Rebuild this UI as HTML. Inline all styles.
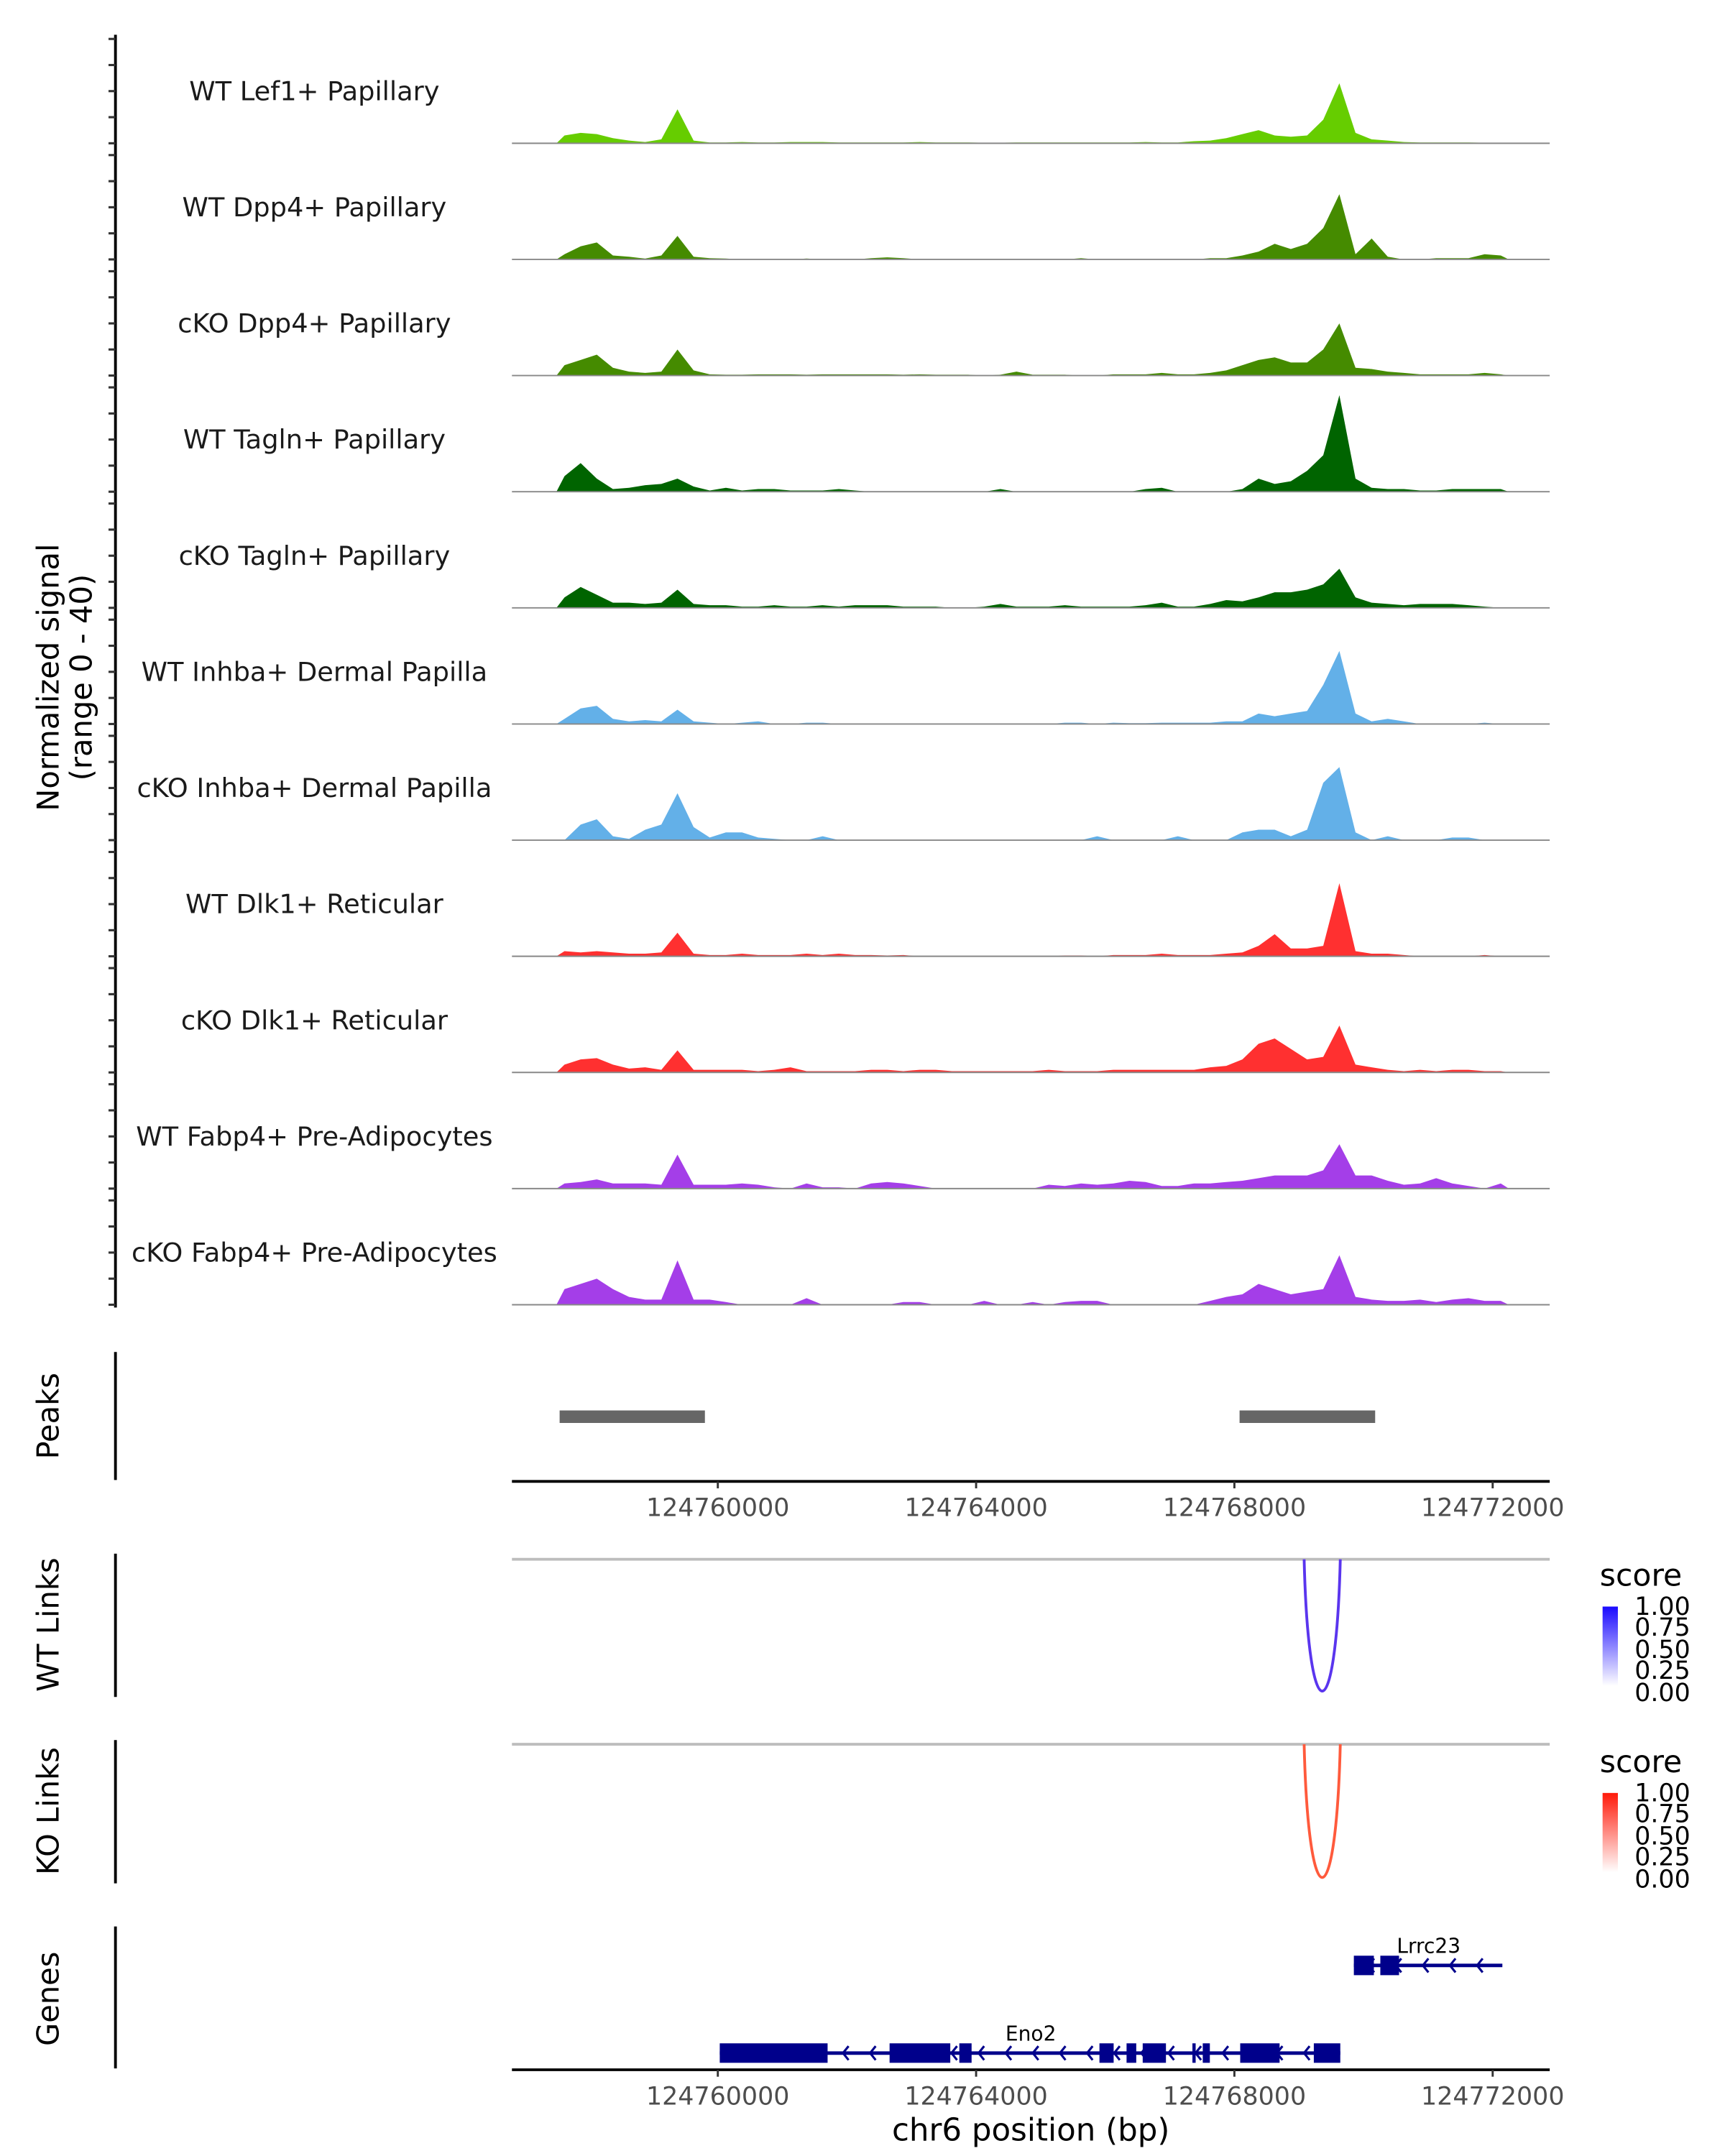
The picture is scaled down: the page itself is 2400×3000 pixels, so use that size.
<!DOCTYPE html>
<html><head><meta charset="utf-8"><style>html,body{margin:0;padding:0;background:#fff}svg{display:block}text{font-family:"DejaVu Sans","Liberation Sans",sans-serif}</style></head>
<body>
<svg id="chart" xmlns="http://www.w3.org/2000/svg" width="2400" height="3000" viewBox="0 0 1240 1550">
<rect width="1240" height="1550" fill="#fff"/>
<g id="tracks"></g>
<g id="yaxis"></g>
<text transform="translate(42,487) rotate(-90)" text-anchor="middle" font-size="21.5" fill="#000">Normalized signal</text>
<text transform="translate(66,487) rotate(-90)" text-anchor="middle" font-size="21.5" fill="#000">(range 0 - 40)</text>

<line x1="83" y1="972" x2="83" y2="1064" stroke="#000" stroke-width="2"/>
<text transform="translate(42,1018) rotate(-90)" text-anchor="middle" font-size="21.5">Peaks</text>
<g id="peaks"></g>
<g id="xaxis1"></g>

<line x1="83" y1="1117" x2="83" y2="1220" stroke="#000" stroke-width="2"/>
<text transform="translate(42,1168) rotate(-90)" text-anchor="middle" font-size="21.5">WT Links</text>
<line x1="368" y1="1121" x2="1114" y2="1121" stroke="#bdbdbd" stroke-width="2"/>
<g id="wtlinks"></g>

<line x1="83" y1="1251" x2="83" y2="1354" stroke="#000" stroke-width="2"/>
<text transform="translate(42,1302) rotate(-90)" text-anchor="middle" font-size="21.5">KO Links</text>
<line x1="368" y1="1254" x2="1114" y2="1254" stroke="#bdbdbd" stroke-width="2"/>
<g id="kolinks"></g>

<defs>
<linearGradient id="gb" x1="0" y1="1" x2="0" y2="0"><stop offset="0" stop-color="#fff"/><stop offset="1" stop-color="#1a0aff"/></linearGradient>
<linearGradient id="gr" x1="0" y1="1" x2="0" y2="0"><stop offset="0" stop-color="#fff"/><stop offset="1" stop-color="#ff1a0a"/></linearGradient>
</defs>
<g>
<text x="1150" y="1140" font-size="22">score</text>
<rect x="1152" y="1155" width="11" height="57" fill="url(#gb)"/>
<g font-size="18"><text x="1175" y="1161">1.00</text><text x="1175" y="1176">0.75</text><text x="1175" y="1192">0.50</text><text x="1175" y="1207">0.25</text><text x="1175" y="1223">0.00</text></g>
</g>
<g>
<text x="1150" y="1274" font-size="22">score</text>
<rect x="1152" y="1289" width="11" height="57" fill="url(#gr)"/>
<g font-size="18"><text x="1175" y="1295">1.00</text><text x="1175" y="1310">0.75</text><text x="1175" y="1326">0.50</text><text x="1175" y="1341">0.25</text><text x="1175" y="1357">0.00</text></g>
</g>

<line x1="83" y1="1385" x2="83" y2="1487" stroke="#000" stroke-width="2"/>
<text transform="translate(42,1437) rotate(-90)" text-anchor="middle" font-size="21.5">Genes</text>
<g id="genes"></g>
<g id="xaxis2"></g>
<text x="741" y="1539" text-anchor="middle" font-size="22.5">chr6 position (bp)</text>
</svg>
<script>
const NS="http://www.w3.org/2000/svg";
const trackNames=["WT Lef1+ Papillary","WT Dpp4+ Papillary","cKO Dpp4+ Papillary","WT Tagln+ Papillary","cKO Tagln+ Papillary","WT Inhba+ Dermal Papilla","cKO Inhba+ Dermal Papilla","WT Dlk1+ Reticular","cKO Dlk1+ Reticular","WT Fabp4+ Pre-Adipocytes","cKO Fabp4+ Pre-Adipocytes"];
const trackColors=["#66cd00","#458b00","#458b00","#006400","#006400","#63b0e8","#63b0e8","#ff3030","#ff3030","#a43ee8","#a43ee8"];
const binStart=124757500;
const binSize=250;
const sLef1=[3,4,3.5,2,1,0.5,1.5,13,1,0.3, 0.3,0.5,0.3,0.3,0.5,0.5,0.5,0.3,0.3,0.3, 0.3,0.3,0.5,0.3,0.3,0.3,0.2,0.2,0.3,0.3, 0.3,0.3,0.3,0.3,0.3,0.3,0.5,0.3,0.3,0.8, 1,2,3.5,5,3,2.5,3,9,23,4, 1.5,1,0.5,0.3,0.3,0.3,0.3,0.2,0];
const sDpp4WT=[2,5,6.5,1.5,1,0.3,1.5,9,1,0.5, 0.3,0,0,0,0,0.3,0,0,0,0.5, 0.8,0.5,0,0,0,0,0,0,0,0, 0,0,0.5,0,0,0,0,0,0,0, 0.5,0.5,1.5,3,6,4,6,12,25,2, 8,1,0,0,0.5,0.5,0.5,2,1.5];
const sDpp4KO=[4,6,8,3,1.5,1,1.5,10,2,0.5, 0.3,0.3,0.5,0.5,0.5,0.3,0.5,0.5,0.5,0.5, 0.5,0.3,0.5,0.3,0.3,0.3,0,0.3,1.5,0.3, 0.3,0.3,0,0,0.5,0.5,0.5,1,0.5,0.5, 1,2,4,6,7,5,5,10,20,3, 2.5,1.5,1,0.5,0.5,0.5,0.5,1,0.5];
const sTaglnWT=[6,11,5,1,1.5,2.5,3,5,2,0.5, 1.5,0.5,1,1,0.5,0.5,0.5,1,0.5,0, 0,0,0,0,0,0,0,1,0,0, 0,0,0,0,0,0,1,1.5,0,0, 0,0,1,5,3,4,8,14,37,5, 1.5,1,1,0.5,0.5,1,1,1,1];
const sTaglnKO=[4,8,5,2,2,1.5,2,7,1.5,1, 1,0.5,0.5,1,0.5,0.5,1,0.5,1,1, 1,0.5,0.5,0.5,0,0,0.5,1.5,0.5,0.5, 0.5,1,0.5,0.5,0.5,0.5,1,2,0.5,0.5, 1.5,3,2.5,4,6,6,7,9,15,4, 2,1.5,1,1.5,1.5,1.5,1,0.5,0];
const sInhbaWT=[2,6,7,2,1,1.5,1,5.5,1,0.5, 0,0.5,1,0,0,0.5,0.5,0,0,0, 0,0,0,0,0,0,0,0,0,0, 0,0.5,0.5,0,0.5,0.3,0.3,0.5,0.5,0.5, 0.5,1,1,4,3,4,5,15,28,4, 1,2,1,0,0,0,0,0.5,0];
const sInhbaKO=[0,6,8,1.5,0.5,4,6,18,5,1, 3,3,1,0.5,0,0,1.5,0,0,0, 0,0,0,0,0,0,0,0,0,0, 0,0,0,1.5,0,0,0,0,1.5,0, 0,0,3,4,4,1.5,4,22,28,3, 0,1.5,0,0,0,1,1,0,0];
const sDlk1WT=[2,1.5,2,1.5,1,1,1.5,9,1,0.5, 0.5,1,0.5,0.5,0.5,1,0.5,1,0.5,0.5, 0.3,0.5,0,0,0,0,0,0,0,0, 0,0.3,0.3,0,0.5,0.5,0.5,1,0.5,0.5, 0.5,1,1.5,4,8.5,3,3,4,28,2, 1,1,0.5,0,0,0,0,0.5,0];
const sDlk1KO=[3,5,5.5,3,1.5,2,1,8.5,1,1, 1,1,0.5,1,2,0.5,0.5,0.5,0.5,1, 1,0.5,1,1,0.5,0.5,0.5,0.5,0.5,0.5, 1,0.5,0.5,0.5,1,1,1,1,1,1, 2,2.5,5,11,13,9,5,6,18,3, 2,1,0.5,1,0.5,1,1,0.5,0.5];
const sFabp4WT=[2,2.5,3.5,2,2,2,1.5,13,1.5,1.5, 1.5,2,1.5,0.5,0,2,0.5,0.5,0,2, 2.5,2,1,0,0,0,0,0,0,0, 1.5,1,2,1.5,2,3,2.5,1,1,2, 2,2.5,3,4,5,5,5,7,17,5, 5,3,1.5,2,4,2,1,0,2];
const sFabp4KO=[6,8,10,6,3,2,2,17,2,2, 1,0,0,0,0,2.5,0,0,0,0, 0,1,1,0,0,0,1.5,0,0,1, 0,1,1.5,1.5,0,0,0,0,0,0, 1.5,3,4,8,6,4,5,6,19,3, 2,1.5,1.5,2,1,2,2.5,1.5,1.5];
const allSignals=[sLef1,sDpp4WT,sDpp4KO,sTaglnWT,sTaglnKO,sInhbaWT,sInhbaKO,sDlk1WT,sDlk1KO,sFabp4WT,sFabp4KO];
const xTicks=[124760000,124764000,124768000,124772000];
const peakRegions=[[124757550,124759800],[124768080,124770180]];
const wtLinks=[[124769080,124769640,1.0]];
const koLinks=[[124769080,124769640,1.0]];
const eno2Exons=[[124760030,124761700],[124762660,124763600],[124763740,124763930],[124765910,124766130],[124766330,124766480],[124766580,124766940],[124767350,124767400],[124767510,124767620],[124768090,124768700],[124769230,124769640]];
const eno2Span=[124760030,124769640];
const lrrc23Exons=[[124769850,124770160],[124770260,124770550]];
const lrrc23Span=[124769850,124772150];

const X0=124760000, PX0=516, PXPB=(1073-516)/12000;
const xs=bp=>PX0+(bp-X0)*PXPB;
const UNIT=75/40;
const baseY=i=>103+i*83.5;
const ys=(i,v)=>baseY(i)-v*UNIT;

function mk(tag,attrs,parent){const e=document.createElementNS(NS,tag);for(const k in attrs)e.setAttribute(k,attrs[k]);parent.appendChild(e);return e;}
const tracks=document.getElementById('tracks');
allSignals.forEach((vals,i)=>{
  const g=mk('g',{},tracks);
  
  
  let d='M'+xs(binStart).toFixed(1)+','+baseY(i);
  vals.forEach((v,j)=>{d+=' L'+xs(binStart+binSize*(j+0.5)).toFixed(1)+','+ys(i,v).toFixed(1);});
  d+=' L'+xs(binStart+binSize*vals.length).toFixed(1)+','+baseY(i)+' Z';
  const p=mk('path',{d:d,fill:trackColors[i]},g);
  
  
  const bl=mk('line',{x1:368,x2:1114,y1:baseY(i),y2:baseY(i),stroke:'#888','stroke-width':1},g);
  
  
  const t=mk('text',{x:226,y:baseY(i)-31,'text-anchor':'middle','font-size':19,fill:'#1a1a1a'},g);
  t.textContent=trackNames[i];
  
  
});
const ya=document.getElementById('yaxis');
mk('line',{x1:83,x2:83,y1:25,y2:940,stroke:'#000','stroke-width':2},ya);
for(let i=0;i<allSignals.length;i++){for(let k=0;k<=4;k++){const y=ys(i,k*10);
  const tk=mk('line',{x1:78,x2:83,y1:y,y2:y,stroke:'#333','stroke-width':1.6},ya);
  
  }}
const pk=document.getElementById('peaks');
peakRegions.forEach(r=>{const e=mk('rect',{x:xs(r[0]),y:1014,width:xs(r[1])-xs(r[0]),height:9,fill:'#666'},pk);
  
  });
function axis(id,y){const g=document.getElementById(id);
  mk('line',{x1:368,x2:1114,y1:y,y2:y,stroke:'#000','stroke-width':2},g);
  xTicks.forEach(t=>{const x=xs(t);mk('line',{x1:x,x2:x,y1:y,y2:y+5,stroke:'#333','stroke-width':1.5},g);
    const tx=mk('text',{x:x,y:y+25,'text-anchor':'middle','font-size':18,fill:'#4d4d4d'},g);tx.textContent=String(t);
    
    });}
axis('xaxis1',1065);axis('xaxis2',1488);
function links(id,arr,top,bottom,color){const g=document.getElementById(id);
  arr.forEach(l=>{const a=xs(l[0]),b=xs(l[1]);const depth=(bottom-top)*l[2];
    const c=mk('path',{d:`M${a},${top} C${a+ (b-a)*0.12},${top+depth*1.33} ${b-(b-a)*0.12},${top+depth*1.33} ${b},${top}`,fill:'none',stroke:color,'stroke-width':2},g);
    
    });}
links('wtlinks',wtLinks,1121,1216,'#5a35ee');
links('kolinks',koLinks,1254,1350,'#ff5a3c');
const gn=document.getElementById('genes');
function gene(name,span,exons,y,labelX){const g=mk('g',{},gn);
  
  
  mk('line',{x1:xs(span[0]),x2:xs(span[1]),y1:y,y2:y,stroke:'#00008b','stroke-width':2.5},g);
  for(let b=span[0]+250;b<span[1];b+=420){const x=xs(b);
    mk('path',{d:`M${x+3},${y-5} L${x-1},${y} L${x+3},${y+5}`,fill:'none',stroke:'#00008b','stroke-width':1.6},g);}
  exons.forEach(e=>mk('rect',{x:xs(e[0]),y:y-7,width:Math.max(1.5,xs(e[1])-xs(e[0])),height:14,fill:'#00008b'},g));
  const t=mk('text',{x:labelX,y:y-9,'text-anchor':'middle','font-size':14.5},g);t.textContent=name;}
gene('Eno2',eno2Span,eno2Exons,1476,741);
gene('Lrrc23',lrrc23Span,lrrc23Exons,1413,1027);
</script>
</body></html>
